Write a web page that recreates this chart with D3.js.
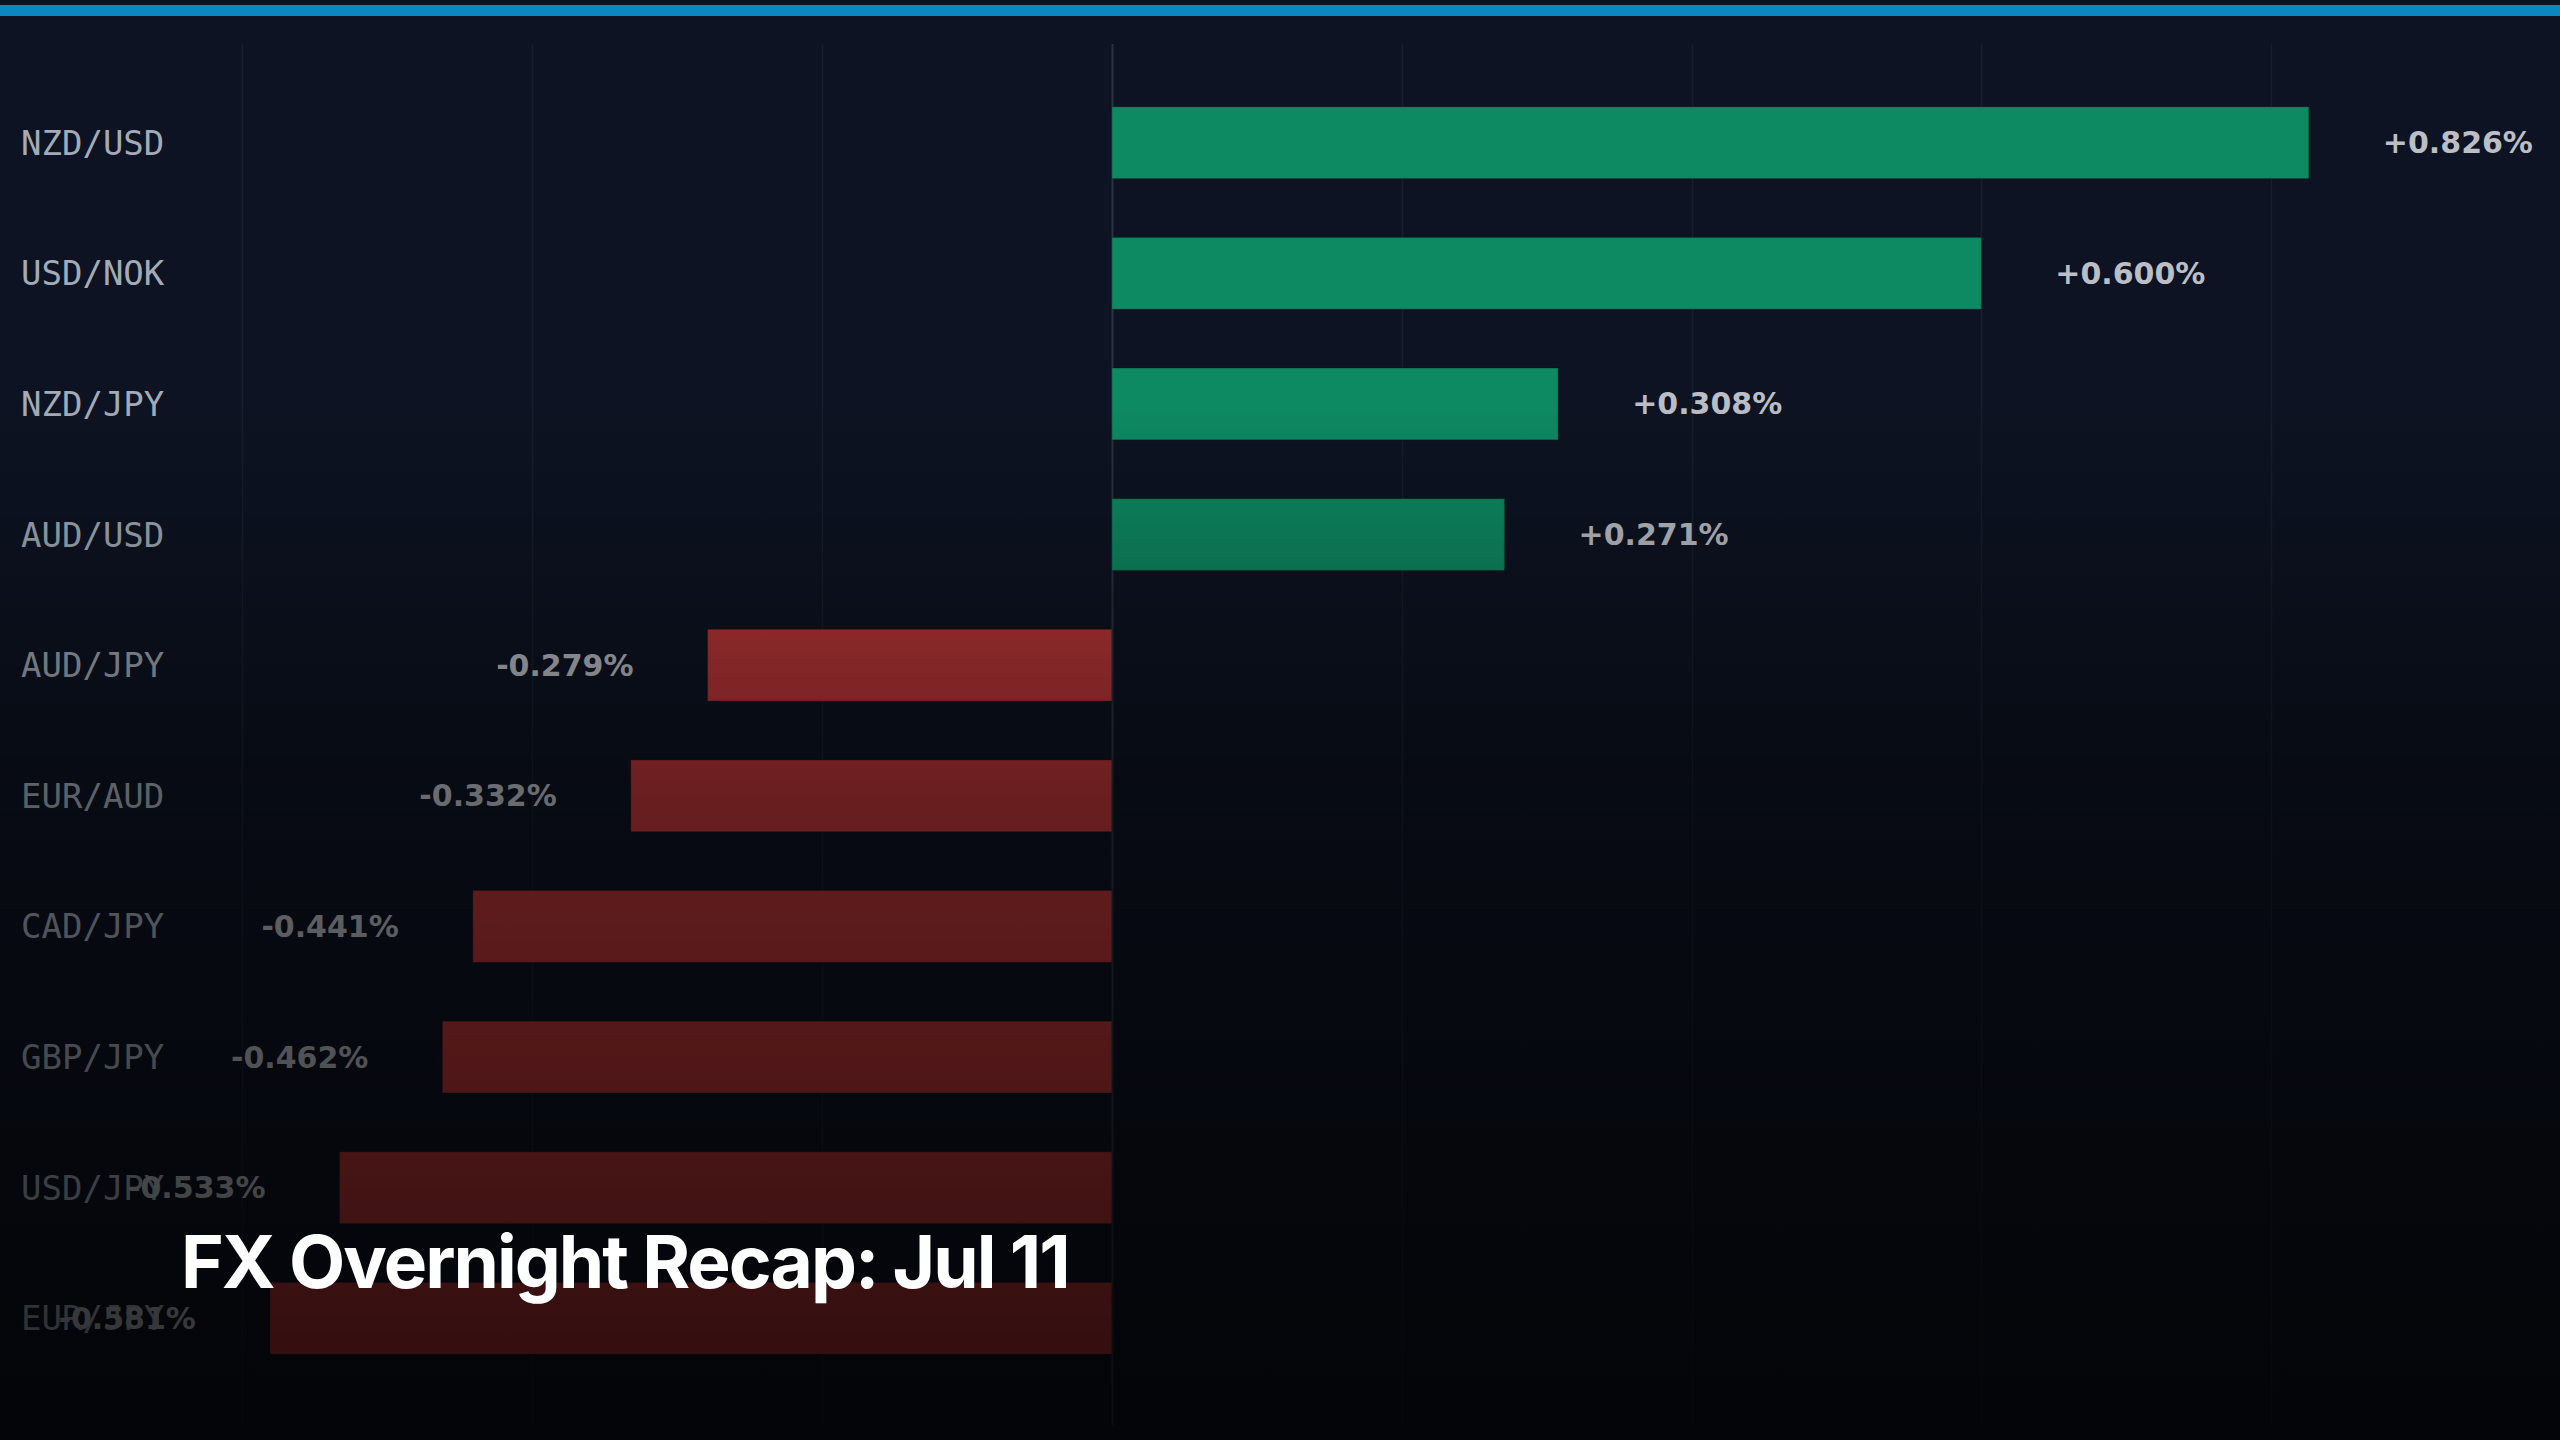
<!DOCTYPE html>
<html>
<head>
<meta charset="utf-8">
<title>FX Overnight Recap</title>
<script src="https://cdn.jsdelivr.net/npm/d3@7"></script>
<style>
    html, body { margin: 0; padding: 0; background: #0d1322; }
    #chart { width: 2560px; height: 1440px; }
</style>
</head>
<body>
<div id="chart"></div>
<script>
// overnight % change per pair, sorted high to low
const pairs = ['NZD/USD', 'USD/NOK', 'NZD/JPY', 'AUD/USD', 'AUD/JPY', 'EUR/AUD', 'CAD/JPY', 'GBP/JPY', 'USD/JPY', 'EUR/JPY'];
const changes = [0.826, 0.600, 0.308, 0.271, -0.279, -0.332, -0.441, -0.462, -0.533, -0.581];
const gridTicks = [-0.6, -0.4, -0.2, 0, 0.2, 0.4, 0.6, 0.8];
const titleText = 'FX Overnight Recap: Jul 11';

// fade to black toward the bottom of the frame (offset in px, opacity)
const fadeStops = [[0, 0], [400, 0], [540, 0.16], [666, 0.3], [797, 0.44], [927, 0.51], [1058, 0.57], [1188, 0.64], [1319, 0.71], [1440, 0.75]];

class FxRecapChart {
    constructor(containerId) {
        this.containerId = containerId;
        this.width = 2560;
        this.height = 1440;
        this.colors = {
            bg: '#0d1322',
            grid: '#171e2c',
            zero: '#2a3240',
            up: '#0e8a62',
            down: '#bb3638',
            pairText: '#a3abb6',
            valueText: '#bbbec4',
            accent: '#0b87c1'
        };
    }

    init() {
        this.data = pairs.map((p, i) => ({ pair: p, change: changes[i] }));
        this.setupSVG();
        this.setupScales();
        this.drawGrid();
        this.drawBars();
        this.drawLabels();
        this.drawFade();
        this.drawHeader();
    }

    setupSVG() {
        const container = d3.select(`#${this.containerId}`);
        container.selectAll('*').remove();
        this.svg = container.append('svg')
            .attr('width', this.width)
            .attr('height', this.height)
            .style('display', 'block');

        this.svg.append('rect')
            .attr('width', this.width)
            .attr('height', this.height)
            .attr('fill', this.colors.bg);
    }

    setupScales() {
        this.x = d3.scaleLinear()
            .domain([-0.75, 1.0])
            .range([25, 2561]);

        this.y = d3.scaleBand()
            .domain(pairs)
            .range([48, 1413])
            .padding(0.45);
    }

    drawGrid() {
        const grid = this.svg.append('g').attr('class', 'grid');
        grid.selectAll('line')
            .data(gridTicks)
            .join('line')
            .attr('x1', d => Math.round(this.x(d)) + 0.5)
            .attr('x2', d => Math.round(this.x(d)) + 0.5)
            .attr('y1', 44)
            .attr('y2', 1425)
            .attr('stroke', d => d === 0 ? this.colors.zero : this.colors.grid)
            .attr('stroke-width', d => d === 0 ? 2 : 1.5);
    }

    drawBars() {
        const x0 = this.x(0);
        this.svg.append('g')
            .attr('class', 'bars')
            .selectAll('rect')
            .data(this.data)
            .join('rect')
            .attr('x', d => Math.min(x0, this.x(d.change)))
            .attr('y', d => this.y(d.pair))
            .attr('width', d => Math.abs(this.x(d.change) - x0))
            .attr('height', this.y.bandwidth())
            .attr('fill', d => d.change >= 0 ? this.colors.up : this.colors.down)
            .attr('stroke', 'rgba(0,0,0,0.18)')
            .attr('stroke-width', 1.5);
    }

    drawLabels() {
        const mid = d => this.y(d.pair) + this.y.bandwidth() / 2;

        this.svg.append('g')
            .attr('class', 'pair-labels')
            .selectAll('text')
            .data(this.data)
            .join('text')
            .attr('x', 21)
            .attr('y', mid)
            .attr('dominant-baseline', 'central')
            .attr('font-family', '"DejaVu Sans Mono", monospace')
            .attr('font-size', '34px')
            .attr('fill', this.colors.pairText)
            .text(d => d.pair);

        const gap = 74;
        this.svg.append('g')
            .attr('class', 'value-labels')
            .selectAll('text')
            .data(this.data)
            .join('text')
            .attr('x', d => d.change >= 0 ? this.x(d.change) + gap : this.x(d.change) - gap)
            .attr('y', mid)
            .attr('text-anchor', d => d.change >= 0 ? 'start' : 'end')
            .attr('dominant-baseline', 'central')
            .attr('font-family', '"DejaVu Sans", sans-serif')
            .attr('font-weight', 'bold')
            .attr('font-size', '30px')
            .attr('fill', this.colors.valueText)
            .text(d => (d.change >= 0 ? '+' : '') + d.change.toFixed(3) + '%');
    }

    drawFade() {
        const defs = this.svg.append('defs');
        const grad = defs.append('linearGradient')
            .attr('id', 'fade')
            .attr('gradientUnits', 'userSpaceOnUse')
            .attr('x1', 0).attr('y1', 0)
            .attr('x2', 0).attr('y2', this.height);

        grad.selectAll('stop')
            .data(fadeStops)
            .join('stop')
            .attr('offset', d => d[0] / this.height)
            .attr('stop-color', '#000')
            .attr('stop-opacity', d => d[1]);

        this.svg.append('rect')
            .attr('width', this.width)
            .attr('height', this.height)
            .attr('fill', 'url(#fade)');
    }

    drawHeader() {
        this.svg.append('rect')
            .attr('x', 0)
            .attr('y', 5)
            .attr('width', this.width)
            .attr('height', 11)
            .attr('fill', this.colors.accent);

        this.svg.append('text')
            .attr('x', 181)
            .attr('y', 1288)
            .attr('font-family', 'Inter, Roboto, sans-serif')
            .attr('font-weight', 700)
            .attr('font-size', '73px')
            .attr('letter-spacing', '-2px')
            .attr('fill', '#ffffff')
            .text(titleText);
    }
}

const chart = new FxRecapChart('chart');
chart.init();
</script>
</body>
</html>
